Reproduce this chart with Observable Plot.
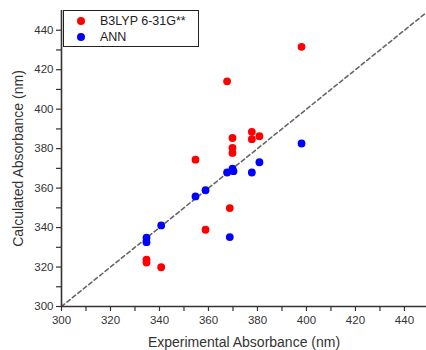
<!DOCTYPE html>
<html>
<head>
<meta charset="utf-8">
<script src="https://cdn.jsdelivr.net/npm/d3@7"></script>
<script src="https://cdn.jsdelivr.net/npm/@observablehq/plot@0.6"></script>
<style>
  html, body { margin: 0; padding: 0; background: #fff; }
  #wrap { position: relative; width: 426px; height: 350px; font-family: "Liberation Sans", Arial, sans-serif; }
  #legend { position: absolute; left: 63px; top: 10px; width: 134px; height: 35px; border: 1.5px solid #222; background: #fff; font-size: 12.5px; color: #222; }
  #legend .row { position: absolute; left: 0; height: 16px; line-height: 16px; white-space: nowrap; }
  #legend .dot { position: absolute; left: 13px; top: 4px; width: 8px; height: 8px; border-radius: 50%; }
  #legend .lab { position: absolute; left: 36px; top: 0; }
</style>
</head>
<body>
<div id="wrap"><div id="legend"></div></div>
<script>
// Series names and colours
const seriesNames = ["B3LYP 6-31G**", "ANN"];
const seriesColors = ["#ff0000", "#0000ff"];

// B3LYP 6-31G** points (experimental, calculated)
const b3lypExp  = [398, 367.6, 354.7, 369.8, 377.7, 377.7, 380.8, 369.8, 369.8, 368.7, 358.8, 334.7, 334.7, 340.7];
const b3lypCalc = [431.6, 414.1, 374.4, 385.4, 388.5, 384.8, 386.3, 380.4, 377.8, 349.9, 338.9, 323.8, 322.3, 319.9];

// ANN points (experimental, calculated)
const annExp  = [398, 380.8, 377.7, 369.8, 367.6, 370.2, 358.8, 354.7, 368.7, 340.7, 334.7, 334.7];
const annCalc = [382.6, 373.1, 367.9, 369.9, 367.9, 368.6, 358.9, 355.8, 335.2, 341.1, 334.9, 332.6];

// Identity (y = x) reference line endpoints
const diagonal = [300, 450];

// Axis ticks
const majorTicks = [300, 320, 340, 360, 380, 400, 420, 440];
const minorTicks = [310, 330, 350, 370, 390, 410, 430];

const pts = [
  ...b3lypExp.map((x, i) => ({x, y: b3lypCalc[i], s: seriesNames[0]})),
  ...annExp.map((x, i) => ({x, y: annCalc[i], s: seriesNames[1]}))
];
const diag = diagonal.map(v => ({x: v, y: v}));
const allTicks = [...majorTicks, ...minorTicks].sort((a, b) => a - b);
const fmt = d => majorTicks.includes(d) ? String(d) : "";

const chart = Plot.plot({
  width: 426,
  height: 350,
  marginLeft: 61,
  marginRight: 0,
  marginTop: 10,
  marginBottom: 44,
  style: {fontFamily: "'Liberation Sans', Arial, sans-serif", fontSize: "11px", color: "#333", background: "#fff"},
  x: {domain: [300, 449]},
  y: {domain: [300, 450]},
  color: {domain: seriesNames, range: seriesColors},
  marks: [
    Plot.line(diag, {x: "x", y: "y", stroke: "#666", strokeWidth: 1.6, strokeDasharray: "4,3", clip: true}),
    Plot.dot(pts, {x: "x", y: "y", fill: "s", r: 3.9}),
    Plot.axisX({ticks: allTicks, tickFormat: fmt, tickSize: 5, tickPadding: 4, fontSize: 11.5, stroke: "#333", strokeWidth: 1.2,
      label: "Experimental Absorbance (nm)", labelAnchor: "center", labelArrow: "none", labelOffset: 40}),
    Plot.axisY({ticks: allTicks, tickFormat: fmt, tickSize: 5, tickPadding: 3, fontSize: 11.5, stroke: "#333", strokeWidth: 1.2,
      label: "Calculated Absorbance (nm)", labelAnchor: "center", labelArrow: "none", labelOffset: 48}),
    Plot.ruleX([300], {stroke: "#333", strokeWidth: 1.6}),
    Plot.ruleY([300], {stroke: "#333", strokeWidth: 1.6})
  ]
});
chart.querySelectorAll("g[aria-label='x-axis label'] text, g[aria-label='y-axis label'] text").forEach(t => {
  t.style.fontSize = "14px";
  t.style.fill = "#333";
});
document.getElementById("wrap").prepend(chart);

const legend = document.getElementById("legend");
seriesNames.forEach((name, i) => {
  const row = document.createElement("div");
  row.className = "row";
  row.style.top = (2 + i * 16) + "px";
  row.style.width = "100%";
  row.innerHTML = `<span class="dot" style="background:${seriesColors[i]}"></span><span class="lab">${name}</span>`;
  legend.appendChild(row);
});
</script>
</body>
</html>
